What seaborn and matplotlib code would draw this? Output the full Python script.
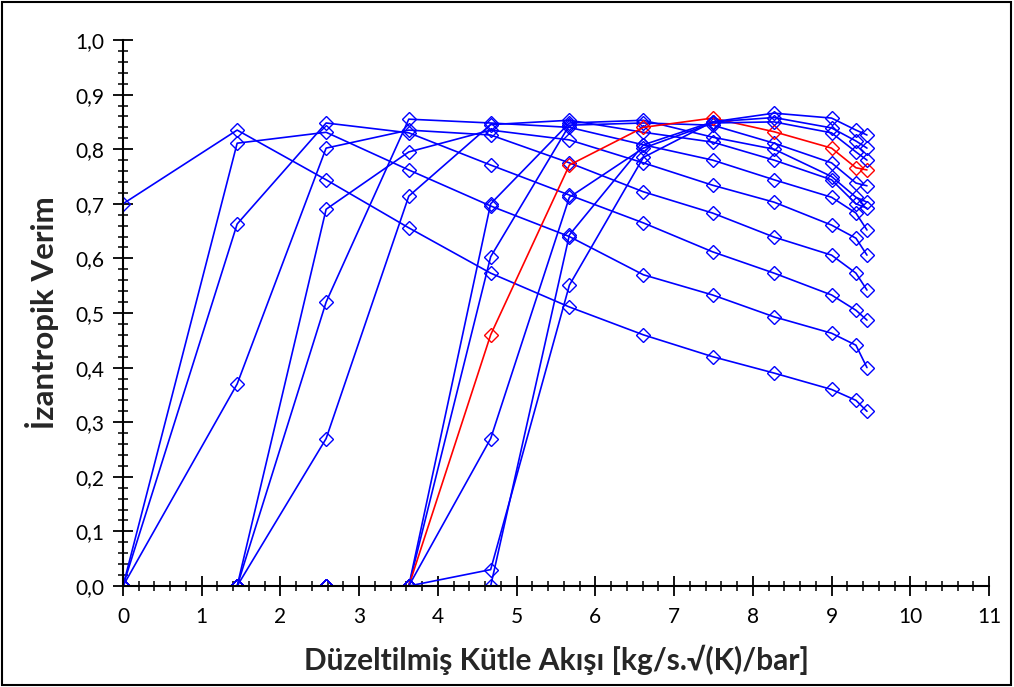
import numpy as np
import pandas as pd
import matplotlib
matplotlib.use("Agg")
import matplotlib.pyplot as plt
import seaborn as sns
from matplotlib.ticker import MultipleLocator, FuncFormatter
from matplotlib.patches import Rectangle

# corrected mass flow grid (x values shared by all lines)
flow = [0, 1.45, 2.58, 3.63, 4.67, 5.67, 6.61, 7.49, 8.27, 9.0, 9.31, 9.45]

# isentropic efficiency, one list per line
eff_1 = [0.70, 0.835, 0.744, 0.656, 0.573, 0.511, 0.46, 0.42, 0.39, 0.36, 0.34, 0.32]
eff_2 = [0.0, 0.811, 0.831, 0.762, 0.696, 0.64, 0.57, 0.533, 0.493, 0.463, 0.441, 0.40]
eff_3 = [0.0, 0.663, 0.848, 0.83, 0.771, 0.716, 0.665, 0.612, 0.573, 0.533, 0.505, 0.487]
eff_4 = [0.0, 0.37, 0.802, 0.835, 0.826, 0.775, 0.722, 0.683, 0.639, 0.606, 0.573, 0.542]
eff_5 = [0.0, 0.0, 0.69, 0.795, 0.835, 0.817, 0.775, 0.734, 0.703, 0.661, 0.637, 0.606]
eff_6 = [0.0, 0.0, 0.52, 0.855, 0.848, 0.84, 0.808, 0.78, 0.744, 0.712, 0.683, 0.652]
eff_7 = [0.0, 0.0, 0.27, 0.714, 0.845, 0.853, 0.831, 0.813, 0.78, 0.744, 0.70, 0.692]
eff_8 = [0.0, 0.0, 0.0, 0.0, 0.70, 0.848, 0.853, 0.822, 0.80, 0.75, 0.712, 0.703]
eff_9 = [0.0, 0.0, 0.0, 0.0, 0.603, 0.844, 0.848, 0.844, 0.811, 0.775, 0.738, 0.733]
eff_10 = [0.0, 0.0, 0.0, 0.0, 0.46, 0.771, 0.84, 0.857, 0.832, 0.802, 0.766, 0.762]
eff_11 = [0.0, 0.0, 0.0, 0.0, 0.27, 0.712, 0.802, 0.848, 0.85, 0.83, 0.795, 0.78]
eff_12 = [0.0, 0.0, 0.0, 0.0, 0.03, 0.551, 0.785, 0.85, 0.858, 0.839, 0.815, 0.802]
eff_13 = [0.0, 0.0, 0.0, 0.0, 0.0, 0.643, 0.808, 0.85, 0.866, 0.857, 0.835, 0.826]

lines = [eff_1, eff_2, eff_3, eff_4, eff_5, eff_6, eff_7, eff_8, eff_9,
         eff_10, eff_11, eff_12, eff_13]
highlight_line = eff_10

x_ticks = list(range(0, 12))
y_ticks = [i / 10 for i in range(0, 11)]
x_label = "Düzeltilmiş Kütle Akışı [kg/s.√(K)/bar]"
y_label = "İzantropik Verim"

sns.set_theme(style="white")
plt.rcParams["font.family"] = ["Lato", "DejaVu Sans"]

W, H = 1014, 687
fig = plt.figure(figsize=(W / 100, H / 100), dpi=100)
ax = fig.add_axes([123 / W, 1 - 586 / H, (989 - 123) / W, (586 - 40) / H])

blue = "#0000FF"
red = "#FF0000"
for vals in lines:
    df = pd.DataFrame({"flow": flow, "eff": vals})
    c = red if vals is highlight_line else blue
    sns.lineplot(data=df, x="flow", y="eff", ax=ax, sort=False, estimator=None,
                 color=c, linewidth=1.2, marker="D", markersize=7,
                 markerfacecolor="none", markeredgecolor=c, markeredgewidth=1.0)

ax.set_xlim(0, 11)
ax.set_ylim(0, 1.0)
ax.set_xticks(x_ticks)
ax.set_yticks(y_ticks)
ax.xaxis.set_minor_locator(MultipleLocator(0.2))
ax.yaxis.set_minor_locator(MultipleLocator(0.02))
ax.yaxis.set_major_formatter(FuncFormatter(lambda v, p: f"{v:.1f}".replace(".", ",")))
ax.xaxis.set_major_formatter(FuncFormatter(lambda v, p: f"{int(round(v))}"))

for s in ["top", "right"]:
    ax.spines[s].set_visible(False)
for s in ["left", "bottom"]:
    ax.spines[s].set_color("black")
    ax.spines[s].set_linewidth(1.5)
    ax.spines[s].set_zorder(5)

ax.tick_params(axis="x", which="both", bottom=True, top=False)
ax.tick_params(axis="y", which="both", left=True, right=False)
ax.tick_params(which="major", direction="inout", length=14, width=1.3,
               color="black", labelsize=15, labelcolor="black")
ax.tick_params(which="minor", direction="inout", length=7, width=1.1, color="black")
ax.tick_params(axis="x", which="major", pad=8)
ax.tick_params(axis="y", which="major", pad=6.5)

ax.set_xlabel(x_label, fontsize=21.5, fontweight="bold", labelpad=13)
ax.set_ylabel(y_label, fontsize=22.5, fontweight="bold", labelpad=12)
ax.set_facecolor("white")
ax.grid(False)

fig.patches.append(Rectangle((0.002, 0.003), 0.995, 0.994, transform=fig.transFigure,
                             fill=False, edgecolor="black", linewidth=1.5))

fig.savefig("out.png", dpi=100)
